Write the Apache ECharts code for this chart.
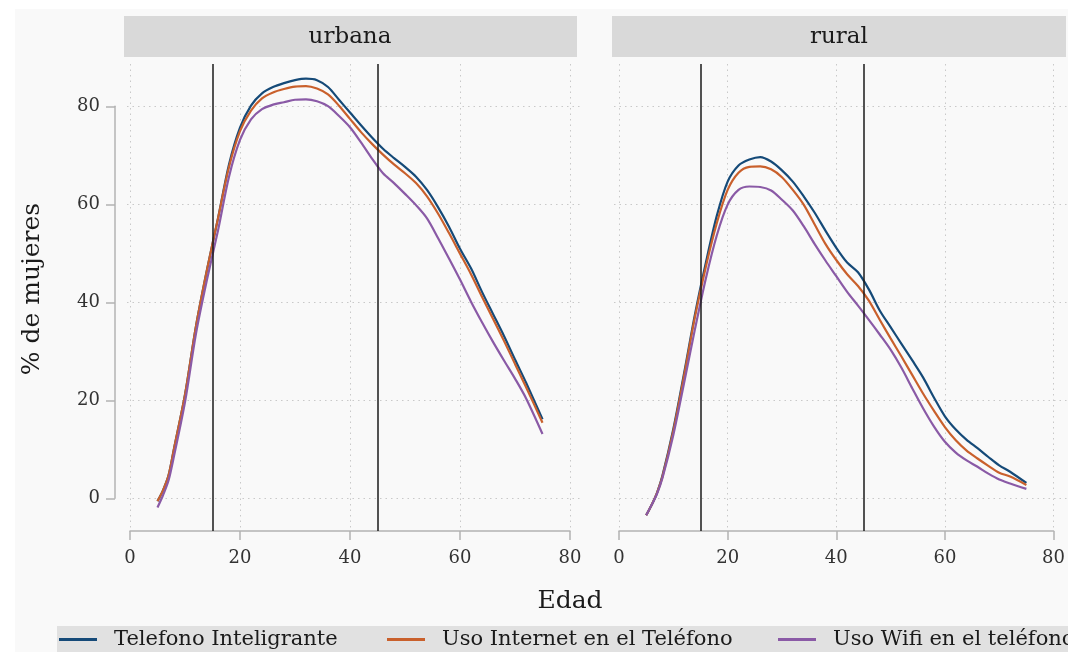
<!DOCTYPE html>
<html>
<head>
<meta charset="utf-8">
<script src="https://cdn.jsdelivr.net/npm/echarts@6/dist/echarts.min.js"></script>
<style>
  html, body { margin: 0; padding: 0; background: #ffffff; }
  #bg { position: absolute; left: 15px; top: 9px; width: 1053px; height: 643px; background: #f9f9f9; }
  #chart { position: absolute; left: 0; top: 0; width: 1068px; height: 652px; }
</style>
</head>
<body>
<div id="bg"></div>
<div id="chart"></div>
<script>
// ---- data ----
const ages = [5,6,7,8,10,12,14,16,18,20,22,24,26,28,30,32,34,36,38,40,42,44,46,48,50,52,54,56,58,60,62,64,66,68,70,72,75];
const panels = ['urbana', 'rural'];
const seriesNames = ['Telefono Inteligrante', 'Uso Internet en el Teléfono', 'Uso Wifi en el teléfono'];
const xTicks = [0, 20, 40, 60, 80];
const yTicks = [0, 20, 40, 60, 80];
const refLines = [15, 45];

const urbanaTelefono = [-0.7,1.5,4.5,10,21,35,46.5,57,68,75.5,80,82.5,83.8,84.6,85.2,85.5,85.2,83.8,81.2,78.6,76,73.5,71.2,69.3,67.5,65.5,62.8,59.3,55.3,50.8,46.8,42,37.5,33,28.2,23.5,16];
const urbanaInternet = [-0.7,1.5,4.5,10,21,35,46.5,57,67.5,74.8,79,81.5,82.7,83.4,83.9,84,83.5,82.3,80,77.3,74.6,72.2,70,68,66.2,64.2,61.5,58,54,49.8,45.6,41,36.5,32,27.3,22.6,15.3];
const urbanaWifi     = [-2,0.5,3.5,8.5,19.5,33.5,44.5,54.5,65.5,73,77.2,79.3,80.2,80.7,81.2,81.3,80.9,79.9,77.9,75.6,72.5,69.2,66.2,64.2,62,59.7,57,53,48.8,44.5,40,35.8,31.8,28,24.3,20.3,13];

const ruralTelefono = [-3.6,-1.5,1,4.5,14,25.5,37.5,48,57.5,64.5,67.8,69,69.5,68.6,66.8,64.5,61.5,58.2,54.5,51,48,46,42.5,38.2,34.8,31.4,28,24.5,20.4,16.6,13.9,11.8,10.1,8.3,6.6,5.3,3];
const ruralInternet = [-3.6,-1.5,1,4.3,13.6,25,37,47.2,56,62.8,66.3,67.5,67.6,67,65.4,62.8,59.8,55.8,51.8,48.5,45.6,43.2,40.2,36.3,32.5,28.8,25,21.2,17.7,14.4,11.7,9.6,8,6.5,5.1,4.3,2.6];
const ruralWifi     = [-3.6,-1.5,0.8,4,12.8,23.5,34.5,44.8,53.5,59.8,62.8,63.5,63.4,62.7,60.8,58.6,55.4,51.8,48.4,45.2,42,39.2,36.3,33.3,30.2,26.5,22.3,18.2,14.5,11.4,9.2,7.6,6.3,4.9,3.7,2.9,1.8];

// ---- styling ----
const FONT = 'DejaVu Serif';
const colors = ['#154a78', '#c9602c', '#8a5aa6'];
const gridLine = { show: true, lineStyle: { color: '#c9c9c9', width: 1, type: [1.5, 4] } };
const axisGrey = '#b3b3b3';

const panelData = [
  [urbanaTelefono, urbanaInternet, urbanaWifi],
  [ruralTelefono, ruralInternet, ruralWifi]
];

const pair = arr => ages.map((a, i) => [a, arr[i]]);

const mainLeft = [130, 619];
const splitLeft = [127, 614];
const splitWidth = [455, 460];

const grid = [];
const xAxis = [];
const yAxis = [];
const series = [];

for (let p = 0; p < 2; p++) {
  grid.push({ left: mainLeft[p], width: 440, top: 64, height: 467, containLabel: false });
  grid.push({ left: splitLeft[p], width: splitWidth[p], top: 106.3, height: 392, containLabel: false });

  const gMain = grid.length - 2, gSplit = grid.length - 1;

  xAxis.push({
    type: 'value', gridIndex: gMain, min: xTicks[0], max: xTicks[xTicks.length - 1], interval: 20,
    axisLine: { show: true, onZero: false, lineStyle: { color: axisGrey, width: 1.5 } },
    axisTick: { show: true, length: 9, lineStyle: { color: axisGrey, width: 1.5 } },
    axisLabel: { show: true, margin: 18, fontFamily: FONT, fontSize: 18, color: '#333' },
    splitLine: gridLine
  });
  xAxis.push({ type: 'value', gridIndex: gSplit, min: 0, max: 80, show: false });

  yAxis.push({ type: 'value', gridIndex: gMain, min: -6.8, max: 88.5, show: false, splitLine: { show: false } });
  yAxis.push({
    type: 'value', gridIndex: gSplit, min: yTicks[0], max: yTicks[yTicks.length - 1], interval: 20,
    offset: p === 0 ? 12 : 0,
    axisLine: { show: p === 0, onZero: false, lineStyle: { color: axisGrey, width: 1.5 } },
    axisTick: { show: p === 0, length: 9, lineStyle: { color: axisGrey, width: 1.5 } },
    axisLabel: { show: p === 0, margin: 15, fontFamily: FONT, fontSize: 18, color: '#333' },
    splitLine: gridLine
  });

  const axIdx = gMain;
  panelData[p].forEach((arr, s) => {
    series.push({
      name: seriesNames[s], type: 'line', xAxisIndex: axIdx, yAxisIndex: axIdx,
      data: pair(arr), showSymbol: false, smooth: 0.3,
      lineStyle: { color: colors[s], width: 2.2 }, itemStyle: { color: colors[s] },
      z: 3,
      markLine: s === 0 ? {
        silent: true, symbol: ['none', 'none'], label: { show: false }, animation: false,
        lineStyle: { color: '#1a1a1a', width: 1.5, type: 'solid' },
        data: refLines.map(v => ({ xAxis: v }))
      } : undefined
    });
  });
}

const legendLefts = [59, 387, 778];
const legend = seriesNames.map((n, i) => ({
  data: [{ name: n, itemStyle: { color: colors[i] } }],
  left: legendLefts[i], top: 629, padding: 0,
  icon: 'rect', itemWidth: 38, itemHeight: 3, selectedMode: false,
  textStyle: { fontFamily: FONT, fontSize: 21, color: '#1a1a1a', padding: [0, 0, 0, 12] }
}));

const stripCenters = [350, 839];
const title = panels.map((t, i) => ({
  text: t, left: stripCenters[i], top: 26, textAlign: 'center', padding: 0, z: 10,
  textStyle: { fontFamily: FONT, fontSize: 23, fontWeight: 'normal', color: '#1a1a1a' }
}));

const chart = echarts.init(document.getElementById('chart'), null, { renderer: 'canvas' });
chart.setOption({
  backgroundColor: 'transparent',
  animation: false,
  title, legend, grid, xAxis, yAxis, series,
  graphic: [
    { type: 'rect', z: 0, shape: { x: 124, y: 16, width: 453, height: 41 }, style: { fill: '#d9d9d9' } },
    { type: 'rect', z: 0, shape: { x: 612, y: 16, width: 454, height: 41 }, style: { fill: '#d9d9d9' } },
    { type: 'rect', z: 0, shape: { x: 57, y: 626, width: 1011, height: 26 }, style: { fill: '#e1e1e1' } },
    { type: 'text', z: 10, x: 32, y: 289, rotation: Math.PI / 2,
      style: { text: '% de mujeres', font: '25px "DejaVu Serif"', fill: '#1a1a1a', textAlign: 'center', textVerticalAlign: 'middle' } },
    { type: 'text', z: 10, x: 570, y: 601,
      style: { text: 'Edad', font: '25px "DejaVu Serif"', fill: '#1a1a1a', textAlign: 'center', textVerticalAlign: 'middle' } }
  ]
});
</script>
</body>
</html>
